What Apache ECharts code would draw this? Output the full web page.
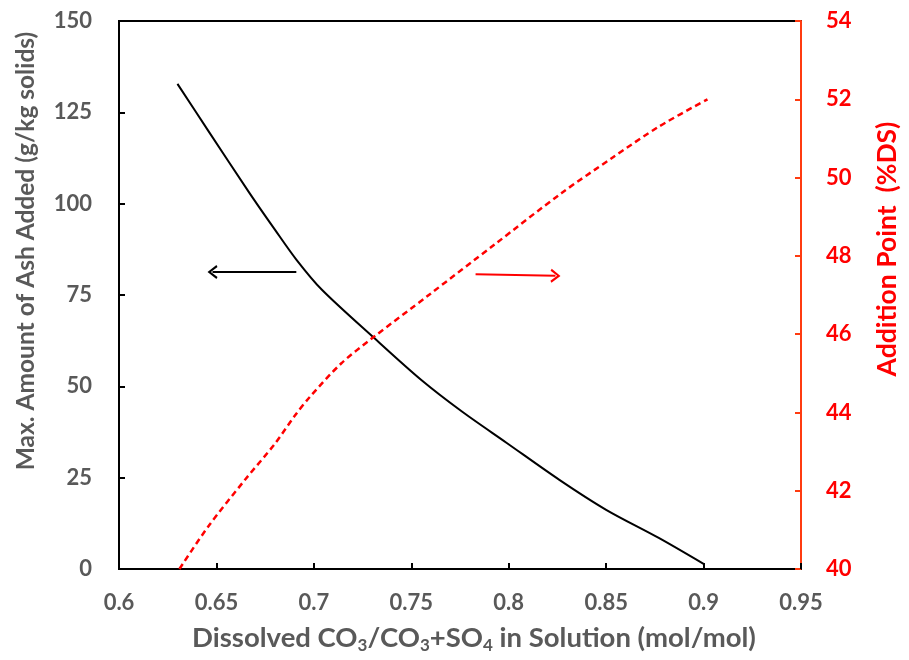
<!DOCTYPE html>
<html>
<head>
<meta charset="utf-8">
<script src="https://cdn.jsdelivr.net/npm/echarts@6/dist/echarts.min.js"></script>
<style>
  html, body { margin: 0; padding: 0; background: #fff; }
  #chart { width: 909px; height: 660px; }
</style>
</head>
<body>
<div id="chart"></div>
<script>
// x ticks
const xTicks = [0.6, 0.65, 0.7, 0.75, 0.8, 0.85, 0.9, 0.95];

// max ash added (g/kg solids), left axis
const ashX = [0.630, 0.646, 0.667, 0.680, 0.691, 0.704, 0.731, 0.755, 0.776, 0.799, 0.826, 0.850, 0.877, 0.900];
const ashY = [132.8, 119.8, 102.9, 92.9, 84.7, 76.5, 63.2, 51.8, 43.1, 34.5, 24.4, 16.2, 8.5, 1.4];

// addition point (%DS), right axis
const addX = [0.631, 0.646, 0.665, 0.680, 0.690, 0.698, 0.714, 0.730, 0.759, 0.793, 0.827, 0.853, 0.877, 0.902];
const addY = [40.0, 41.1, 42.3, 43.2, 43.9, 44.4, 45.25, 45.9, 47.0, 48.3, 49.6, 50.5, 51.3, 52.0];

// the two pointer arrows [x0, x1, y0, y1]
const ashArrow = [0.691, 0.648, 81.3, 81.3];
const addArrow = [0.783, 0.824, 47.53, 47.49];

const zip = (xs, ys) => xs.map((x, i) => [x, ys[i]]);

const GREY = '#595959';
const RED = '#ff0000';
const FONT = 'Lato';
// open "V" head for arrows
const vHead = 'path://M5,0 L10,8 L8.6,9 L5,3 L1.4,9 L0,8 Z';

const myChart = echarts.init(document.getElementById('chart'));

myChart.setOption({
    animation: false,
    backgroundColor: '#fff',
    grid: {
        left: 119, right: 99, top: 21, bottom: 91,
        show: true, borderColor: '#000', borderWidth: 2
    },
    xAxis: {
        type: 'value',
        min: xTicks[0], max: xTicks[xTicks.length - 1], interval: 0.05,
        axisLine: { lineStyle: { color: '#000', width: 2 } },
        axisTick: { inside: true, length: 6, lineStyle: { color: '#000', width: 2 } },
        splitLine: { show: false },
        axisLabel: {
            color: GREY, fontFamily: FONT, fontWeight: 'bold', fontSize: 22, margin: 23,
            formatter: v => String(+v.toFixed(2))
        },
        name: 'Dissolved CO{s|3}/CO{s|3}+SO{s|4} in Solution (mol/mol)',
        nameLocation: 'middle',
        nameGap: 54,
        nameTextStyle: {
            color: GREY, fontFamily: FONT, fontWeight: 'bold', fontSize: 27.5,
            padding: [0, 0, 0, 28],
            rich: {
                s: { color: GREY, fontFamily: FONT, fontWeight: 'bold', fontSize: 17, padding: [14, 0, 0, 0] }
            }
        }
    },
    yAxis: [{
        type: 'value',
        min: 0, max: 150, interval: 25,
        axisLine: { show: true, lineStyle: { color: '#000', width: 2 } },
        axisTick: { show: true, inside: true, length: 6, lineStyle: { color: '#000', width: 2 } },
        splitLine: { show: false },
        axisLabel: { color: GREY, fontFamily: FONT, fontWeight: 'bold', fontSize: 22, margin: 27 },
        name: 'Max. Amount of Ash Added (g/kg solids)',
        nameLocation: 'middle',
        nameGap: 80,
        nameRotate: 90,
        nameTextStyle: {
            color: GREY, fontFamily: FONT, fontWeight: 'bold', fontSize: 24.5,
            padding: [0, 0, 0, 88]
        }
    }, {
        type: 'value',
        position: 'right',
        min: 40, max: 54, interval: 2,
        axisLine: { show: true, lineStyle: { color: '#ff3b10', width: 2 } },
        axisTick: { show: true, inside: true, length: 6, lineStyle: { color: '#ff3b10', width: 2 } },
        splitLine: { show: false },
        axisLabel: { color: RED, fontFamily: FONT, fontWeight: 'bold', fontSize: 22, margin: 25 },
        name: 'Addition Point  (%DS)',
        nameLocation: 'middle',
        nameGap: 73,
        nameRotate: 90,
        nameTextStyle: {
            color: RED, fontFamily: FONT, fontWeight: 'bold', fontSize: 26.5,
            padding: [0, 0, 0, 92]
        }
    }],
    series: [{
        type: 'line',
        yAxisIndex: 0,
        data: zip(ashX, ashY),
        smooth: 0.3,
        showSymbol: false,
        lineStyle: { color: '#000', width: 2 },
        markLine: {
            silent: true,
            symbol: ['none', vHead],
            symbolSize: [14, 10],
            label: { show: false },
            lineStyle: { color: '#000', width: 2, type: 'solid' },
            data: [[
                { coord: [ashArrow[0], ashArrow[2]] },
                { coord: [ashArrow[1], ashArrow[3]] }
            ]]
        }
    }, {
        type: 'line',
        yAxisIndex: 1,
        data: zip(addX, addY),
        smooth: 0.3,
        showSymbol: false,
        lineStyle: { color: RED, width: 2.5, type: [6, 4] },
        markLine: {
            silent: true,
            symbol: ['none', vHead],
            symbolSize: [14, 10],
            label: { show: false },
            lineStyle: { color: RED, width: 2, type: 'solid' },
            data: [[
                { coord: [addArrow[0], addArrow[2]] },
                { coord: [addArrow[1], addArrow[3]] }
            ]]
        }
    }]
});
</script>
</body>
</html>
